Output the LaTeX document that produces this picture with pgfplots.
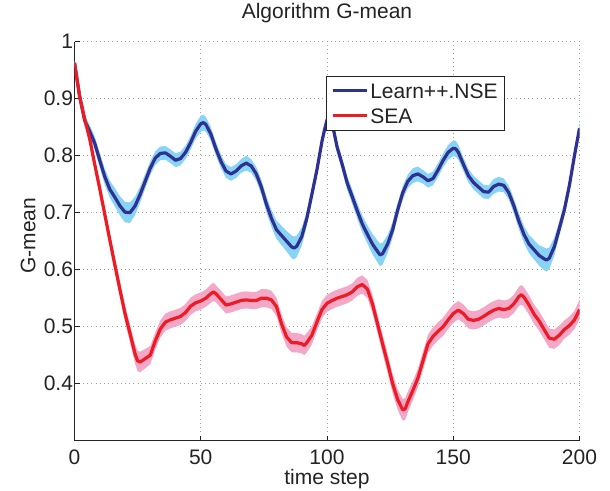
\documentclass[border=0pt]{standalone}
\usepackage{fontspec}
\setmainfont{Liberation Sans}
\usepackage{pgfplots}
\usepackage{pgfplotstable}
\pgfplotsset{compat=1.18}
\usepgfplotslibrary{fillbetween}
\definecolor{navy}{RGB}{46,49,146}
\definecolor{lblue}{RGB}{137,211,244}
\definecolor{sred}{RGB}{237,28,36}
\definecolor{spink}{RGB}{243,168,200}
\definecolor{txt}{RGB}{35,35,35}

\pgfplotstableread{
t m e
0 0.963 0.004
2 0.905 0.008
4 0.862 0.010
6 0.843 0.011
8 0.822 0.012
10 0.792 0.013
12 0.763 0.014
14 0.741 0.015
16 0.727 0.016
18 0.712 0.017
20 0.701 0.018
22 0.700 0.018
24 0.712 0.016
26 0.732 0.014
28 0.755 0.013
30 0.778 0.012
32 0.796 0.012
34 0.804 0.012
36 0.805 0.012
38 0.799 0.012
40 0.792 0.012
42 0.795 0.012
44 0.806 0.012
46 0.823 0.012
48 0.843 0.013
50 0.856 0.014
51 0.858 0.014
52 0.855 0.013
54 0.838 0.012
56 0.812 0.012
58 0.790 0.012
60 0.773 0.012
62 0.768 0.012
64 0.773 0.012
66 0.782 0.012
68 0.787 0.013
70 0.782 0.012
72 0.768 0.012
74 0.745 0.013
76 0.715 0.014
78 0.690 0.015
80 0.670 0.016
82 0.660 0.017
84 0.650 0.018
86 0.640 0.020
87 0.638 0.020
88 0.641 0.019
90 0.658 0.016
92 0.690 0.013
94 0.732 0.011
96 0.775 0.010
98 0.825 0.010
99 0.845 0.010
100 0.862 0.010
101 0.872 0.010
102 0.858 0.010
104 0.815 0.010
106 0.785 0.011
108 0.752 0.012
110 0.728 0.013
112 0.703 0.014
114 0.680 0.015
116 0.662 0.016
118 0.645 0.018
120 0.632 0.019
121 0.626 0.020
122 0.628 0.019
124 0.645 0.016
126 0.670 0.014
128 0.705 0.013
130 0.735 0.012
132 0.755 0.012
134 0.765 0.013
136 0.768 0.013
138 0.763 0.012
140 0.756 0.012
142 0.760 0.012
144 0.775 0.012
146 0.792 0.012
148 0.806 0.013
150 0.813 0.014
151 0.812 0.014
152 0.806 0.013
154 0.785 0.012
156 0.765 0.012
158 0.753 0.012
160 0.745 0.012
162 0.737 0.012
164 0.736 0.012
166 0.746 0.013
168 0.750 0.013
170 0.748 0.012
172 0.735 0.012
174 0.712 0.013
176 0.685 0.014
178 0.662 0.015
180 0.645 0.016
182 0.635 0.017
184 0.625 0.018
186 0.619 0.020
187 0.617 0.020
188 0.620 0.019
190 0.640 0.016
192 0.672 0.013
194 0.705 0.012
196 0.748 0.011
198 0.800 0.010
200 0.848 0.010
}\learn

\pgfplotstableread{
t m e
0 0.963 0.004
2 0.905 0.008
4 0.865 0.010
6 0.830 0.011
8 0.785 0.012
10 0.742 0.012
12 0.697 0.013
14 0.652 0.013
16 0.608 0.014
18 0.565 0.014
20 0.523 0.015
22 0.488 0.016
24 0.452 0.017
25 0.440 0.018
26 0.438 0.018
28 0.444 0.017
30 0.450 0.016
32 0.475 0.015
34 0.496 0.015
36 0.508 0.015
38 0.512 0.015
40 0.515 0.015
42 0.518 0.015
44 0.525 0.015
46 0.536 0.015
48 0.542 0.015
50 0.545 0.015
52 0.550 0.015
54 0.558 0.016
55 0.561 0.016
56 0.558 0.015
58 0.548 0.015
60 0.538 0.015
62 0.540 0.015
64 0.543 0.015
66 0.546 0.015
68 0.547 0.015
70 0.546 0.015
72 0.546 0.015
74 0.550 0.016
76 0.550 0.016
78 0.547 0.016
80 0.535 0.016
82 0.505 0.017
84 0.482 0.017
86 0.472 0.017
88 0.472 0.017
90 0.470 0.017
91 0.467 0.017
92 0.472 0.017
94 0.485 0.016
96 0.508 0.015
98 0.530 0.015
100 0.541 0.015
102 0.546 0.015
104 0.550 0.015
106 0.553 0.015
108 0.556 0.015
110 0.561 0.015
112 0.570 0.016
114 0.574 0.016
116 0.566 0.016
118 0.540 0.016
120 0.505 0.016
122 0.470 0.016
124 0.436 0.017
126 0.400 0.017
128 0.372 0.018
130 0.354 0.019
131 0.356 0.019
132 0.368 0.018
134 0.388 0.017
136 0.410 0.016
138 0.440 0.016
140 0.470 0.016
142 0.483 0.016
144 0.492 0.016
146 0.500 0.016
148 0.512 0.016
150 0.523 0.016
152 0.529 0.016
154 0.523 0.016
156 0.513 0.016
158 0.511 0.016
160 0.513 0.016
162 0.518 0.016
164 0.524 0.016
166 0.529 0.016
168 0.532 0.016
170 0.530 0.016
172 0.532 0.016
174 0.540 0.016
176 0.553 0.017
177 0.556 0.017
178 0.552 0.017
180 0.538 0.017
182 0.522 0.017
184 0.510 0.017
186 0.495 0.017
188 0.480 0.017
190 0.478 0.017
192 0.485 0.017
194 0.495 0.016
196 0.502 0.016
198 0.512 0.016
200 0.530 0.017
}\sea

\begin{document}
\begin{tikzpicture}
\begin{axis}[
  scale only axis,
  width=505pt, height=399pt,
  xmin=0, xmax=200, ymin=0.3, ymax=1,
  xtick={0,50,100,150,200},
  ytick={0.4,0.5,0.6,0.7,0.8,0.9,1},
  axis x line*=bottom, axis y line*=left,
  axis line style={txt, line width=0.8pt},
  tick align=inside,
  major tick length=5pt,
  tick style={txt, line width=0.8pt},
  grid=major,
  major grid style={gray!75, line width=0.7pt, dash pattern=on 0.8pt off 3.4pt},
  font=\fontsize{21}{25}\selectfont,
  every tick label/.append style={text=txt},
  /pgf/number format/assume math mode=true,
  xticklabel style={yshift=-6pt},
  yticklabel style={xshift=2pt},
  title={Algorithm G-mean},
  title style={at={(axis description cs:0.5,1.0556)}, anchor=center, text=txt},
  xlabel={time step},
  xlabel style={at={(axis description cs:0.5,-0.097)}, anchor=center, text=txt},
  ylabel={G-mean},
  ylabel style={at={(axis description cs:-0.092,0.5135)}, anchor=center, rotate=0, text=txt},
  legend image code/.code={\draw[#1] (0pt,0pt) -- (34pt,0pt);},
  legend cell align=left,
  legend style={at={(axis description cs:0.498,0.915)}, anchor=north west,
    draw=txt, line width=0.8pt, fill=white, text=txt,
    inner xsep=4.7pt, inner ysep=5pt, row sep=6pt,
    nodes={inner sep=2pt, text height=15pt, text depth=0pt},
    font=\fontsize{21}{25}\selectfont},
]
\addplot[draw=none, name path=bu, forget plot] table[x=t, y expr=\thisrow{m}+\thisrow{e}] {\learn};
\addplot[draw=none, name path=bl, forget plot] table[x=t, y expr=\thisrow{m}-\thisrow{e}] {\learn};
\addplot[lblue, draw=none, forget plot] fill between[of=bu and bl];
\addplot[draw=none, name path=ru, forget plot] table[x=t, y expr=\thisrow{m}+\thisrow{e}] {\sea};
\addplot[draw=none, name path=rl, forget plot] table[x=t, y expr=\thisrow{m}-\thisrow{e}] {\sea};
\addplot[spink, draw=none, forget plot] fill between[of=ru and rl];
\addplot[navy, line width=3.2pt, line join=round] table[x=t, y=m] {\learn};
\addplot[sred, line width=3.2pt, line join=round] table[x=t, y=m] {\sea};
\legend{Learn++.NSE, SEA}
\coordinate (bl0) at (rel axis cs:0,0);
\coordinate (tr0) at (rel axis cs:1,1);
\end{axis}
\pgfresetboundingbox
\path ([shift={(-74.5pt,-50.3pt)}]bl0) rectangle ([shift={(30.5pt,41.7pt)}]tr0);
\end{tikzpicture}
\end{document}
